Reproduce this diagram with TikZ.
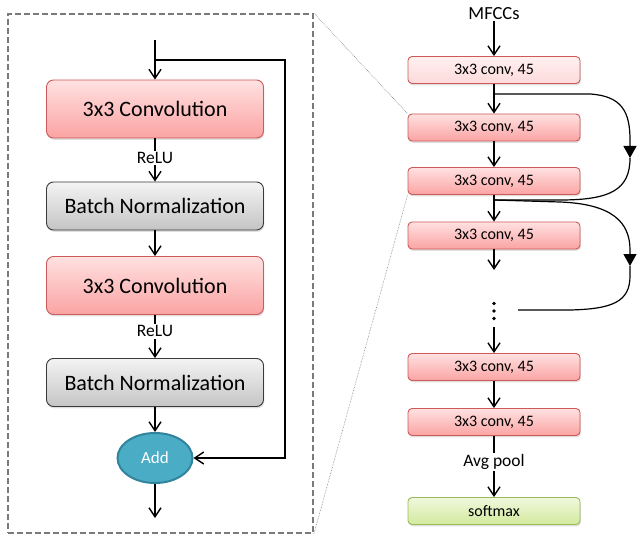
\documentclass[tikz,border=0pt]{standalone}
\usepackage{fontspec}
\setmainfont{Carlito}
\usetikzlibrary{arrows.meta,shadows,shapes.geometric}
\definecolor{convtop}{HTML}{FFE1E1}
\definecolor{convbot}{HTML}{FBA3A3}
\definecolor{convdraw}{HTML}{CD5A58}
\definecolor{lighttop}{HTML}{FFF0F0}
\definecolor{lightbot}{HTML}{FDDADA}
\definecolor{bntop}{HTML}{F4F4F4}
\definecolor{bnbot}{HTML}{C4C4C4}
\definecolor{bndraw}{HTML}{3A3A3A}
\definecolor{smtop}{HTML}{F0F8DE}
\definecolor{smbot}{HTML}{D3EA9E}
\definecolor{smdraw}{HTML}{9BBB59}
\definecolor{addfill}{HTML}{4BACC6}
\definecolor{adddraw}{HTML}{31849B}
\definecolor{framegray}{HTML}{7A7A7A}
\begin{document}
\begin{tikzpicture}[x=1bp,y=-1bp,
  shd/.style={drop shadow={shadow xshift=0.8bp,shadow yshift=-1.8bp,opacity=0.25}},
  bigbox/.style={shd,rounded corners=7bp,minimum width=217bp,line width=0.9bp,inner sep=0pt,font=\fontsize{22bp}{25bp}\selectfont},
  bigconv/.style={bigbox,draw=convdraw,top color=convtop,bottom color=convbot,minimum height=58bp},
  bigbn/.style={bigbox,draw=bndraw,top color=bntop,bottom color=bnbot,minimum height=48bp},
  smallbox/.style={shd,rounded corners=4bp,minimum width=172bp,minimum height=27bp,line width=0.9bp,inner sep=0pt,font=\fontsize{16bp}{18bp}\selectfont},
  rconv/.style={smallbox,draw=convdraw,top color=convtop,bottom color=convbot},
  rlight/.style={smallbox,draw=convdraw,top color=lighttop,bottom color=lightbot},
  rsoft/.style={smallbox,draw=smdraw,top color=smtop,bottom color=smbot},
  addnode/.style={ellipse,draw=adddraw,line width=2bp,fill=addfill,minimum width=75bp,minimum height=50bp,inner sep=0pt,text=white,font=\fontsize{17bp}{19bp}\selectfont},
  lbl/.style={fill=white,inner sep=1.5bp,font=\fontsize{17.5bp}{20bp}\selectfont},
  arr/.style={line width=1.4bp,-{Straight Barb[length=9bp,width=12bp,line width=1.4bp]}},
  skip/.style={line width=1.2bp},
  skiparr/.style={line width=1.2bp,-{Triangle[length=12bp,width=13bp]}},
  zoomline/.style={gray,densely dotted,line width=0.6bp},
]
\useasboundingbox (0,0) rectangle (637,535);
% frame
\node[draw=framegray,dash pattern=on 6bp off 3bp,line width=1.8bp,minimum width=305bp,minimum height=519bp,inner sep=0pt] (frame) at (160.5,273.5) {};
% left detail
\coordinate (lin) at (155,40);
\coordinate (lsplit) at (155,60);
\coordinate (lskip) at (285,60);
\node[bigconv] (c1) at (155,109) {3x3 Convolution};
\node[bigbn] (b1) at (155,206) {Batch Normalization};
\node[bigconv] (c2) at (155,285.5) {3x3 Convolution};
\node[bigbn] (b2) at (155,382.5) {Batch Normalization};
\node[addnode] (add) at (155,458) {Add};
\coordinate (lout) at (155,518);
\draw[arr] (lin) -- (c1);
\draw[arr] (lsplit) -- (lskip) |- (add);
\draw[arr] (c1) -- node[lbl,pos=0.45]{ReLU} (b1);
\draw[arr] (b1) -- (c2);
\draw[arr] (c2) -- node[lbl,pos=0.38]{ReLU} (b2);
\draw[arr] (b2) -- (add);
\draw[arr] (add) -- (lout);
% right network
\node[font=\fontsize{18.5bp}{21bp}\selectfont,inner sep=1bp] (mfcc) at (494,14) {MFCCs};
\node[rlight] (r1) at (494,70) {3x3 conv, 45};
\node[rconv] (r2) at (494,127.5) {3x3 conv, 45};
\node[rconv] (r3) at (494,181) {3x3 conv, 45};
\node[rconv] (r4) at (494,235.5) {3x3 conv, 45};
\node[minimum width=6bp,minimum height=32bp,inner sep=0pt] (dots) at (494,311) {};
\fill (494,303.5) circle (1.8bp) (494,311) circle (1.8bp) (494,318.5) circle (1.8bp);
\node[rconv] (r5) at (494,367) {3x3 conv, 45};
\node[rconv] (r6) at (494,422) {3x3 conv, 45};
\node[rsoft] (sm) at (494,511) {softmax};
\coordinate (r4end) at (494,270);
\draw[arr] (mfcc) -- (r1);
\draw[arr] (r1) -- (r2);
\draw[arr] (r2) -- (r3);
\draw[arr] (r3) -- (r4);
\draw[arr] (r4) -- (r4end);
\draw[arr] (dots) -- (r5);
\draw[arr] (r5) -- (r6);
\draw[arr] (r6) -- node[lbl,pos=0.42]{Avg pool} (sm);
% skip curves
\coordinate (s1) at (494,94);
\coordinate (k1) at (630,158);
\coordinate (e1) at (494,200);
\coordinate (k2) at (630,266);
\coordinate (dend) at (518,310);
\draw[skiparr] (s1) -- (590,94) .. controls (622,96) and (630,112) .. (630,140) -- (k1);
\draw[skip] (k1) .. controls (630,190) and (610,200) .. (560,200) -- (e1);
\draw[skiparr] (e1) -- (560,202) .. controls (612,204) and (630,222) .. (630,250) -- (k2);
\draw[skip] (k2) -- (630,276) .. controls (630,302) and (612,309) .. (570,310) -- (dend);
% zoom lines
\draw[zoomline] (frame.north east) -- (r2.north west);
\draw[zoomline] (frame.south east) -- (r3.south west);
\end{tikzpicture}
\end{document}
